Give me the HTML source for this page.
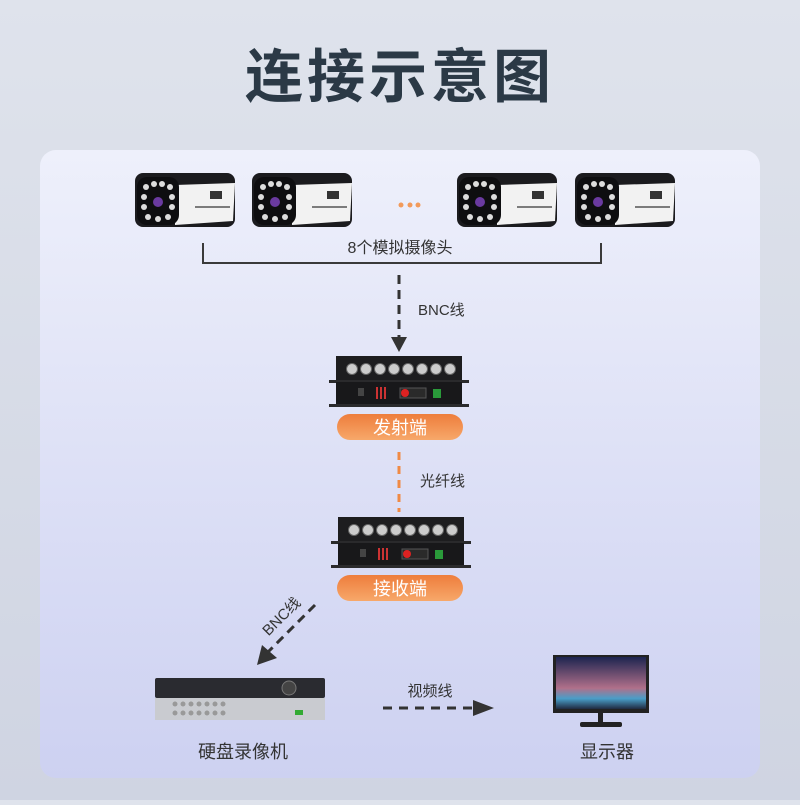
<!DOCTYPE html>
<html><head><meta charset="utf-8"><style>
html,body{margin:0;padding:0}
body{width:800px;height:800px;overflow:hidden;background:linear-gradient(#dfe3ec,#cfd4e2);font-family:"Liberation Sans","Noto Sans CJK SC",sans-serif}
</style></head><body>
<svg width="800" height="800" viewBox="0 0 800 800" xmlns="http://www.w3.org/2000/svg" font-family="Liberation Sans, Noto Sans CJK SC, sans-serif">
<defs>
<linearGradient id="card" x1="0" y1="0" x2="0" y2="1"><stop offset="0" stop-color="#eef0fb"/><stop offset="1" stop-color="#cdd1f1"/></linearGradient>
<linearGradient id="btn" x1="0" y1="0" x2="0" y2="1"><stop offset="0" stop-color="#ee7d3c"/><stop offset="1" stop-color="#f7a86a"/></linearGradient>
<linearGradient id="scr" x1="0" y1="0" x2="0" y2="1"><stop offset="0" stop-color="#1d2550"/><stop offset="0.6" stop-color="#b0708a"/><stop offset="0.8" stop-color="#4a9ec8"/><stop offset="1" stop-color="#202a40"/></linearGradient>
<g id="cam">
<rect x="0" y="0" width="100" height="54" rx="8" fill="#1b1b1e"/>
<path d="M40 12 L100 10 L98 48 L40 52Z" fill="#f2f2f2"/>
<rect x="2" y="4" width="42" height="48" rx="10" fill="#0e0e10"/>
<g fill="#ddd"><circle cx="11" cy="14" r="3"/><circle cx="19" cy="11" r="3"/><circle cx="27" cy="11" r="3"/><circle cx="35" cy="14" r="3"/><circle cx="9" cy="24" r="3"/><circle cx="37" cy="24" r="3"/><circle cx="9" cy="34" r="3"/><circle cx="37" cy="34" r="3"/><circle cx="13" cy="44" r="3"/><circle cx="23" cy="46" r="3"/><circle cx="33" cy="44" r="3"/></g>
<circle cx="23" cy="29" r="5" fill="#6a3aa0"/>
<rect x="75" y="18" width="12" height="8" fill="#333"/>
<path d="M60 34 H95" stroke="#555" stroke-width="1.5"/>
</g>
<g id="dev">
<rect x="3" y="0" width="126" height="24" fill="#1d1d1f"/>
<g fill="#ccc" stroke="#666"><circle cx="19" cy="13" r="5.5"/><circle cx="33" cy="13" r="5.5"/><circle cx="47" cy="13" r="5.5"/><circle cx="61" cy="13" r="5.5"/><circle cx="75" cy="13" r="5.5"/><circle cx="89" cy="13" r="5.5"/><circle cx="103" cy="13" r="5.5"/><circle cx="117" cy="13" r="5.5"/></g>
<rect x="-4" y="24" width="140" height="3" fill="#2a2a2c"/>
<rect x="3" y="26" width="126" height="25" fill="#18181a"/>
<rect x="-4" y="48" width="140" height="3" fill="#2a2a2c"/>
<rect x="25" y="32" width="6" height="8" fill="#444"/>
<g fill="#c33"><rect x="43" y="31" width="2" height="12"/><rect x="47" y="31" width="2" height="12"/><rect x="51" y="31" width="2" height="12"/></g>
<rect x="67" y="32" width="26" height="10" fill="#2a2a2a" stroke="#555"/>
<circle cx="72" cy="37" r="4" fill="#d22"/>
<rect x="100" y="33" width="8" height="9" fill="#2a9a3a"/>
</g>
</defs>
<text x="400" y="97" text-anchor="middle" font-size="58" font-weight="bold" fill="#2b3946" letter-spacing="4">连接示意图</text>
<rect x="40" y="150" width="720" height="628" rx="16" fill="url(#card)"/>
<use href="#cam" x="135" y="173"/>
<use href="#cam" x="252" y="173"/>
<use href="#cam" x="457" y="173"/>
<use href="#cam" x="575" y="173"/>
<g fill="#f29a5a"><circle cx="401" cy="205" r="2.5"/><circle cx="410" cy="205" r="2.5"/><circle cx="418" cy="205" r="2.5"/></g>
<path d="M203 243 V263 H601 V243" fill="none" stroke="#3a3a3a" stroke-width="2"/>
<text x="400" y="253" text-anchor="middle" font-size="16" fill="#333">8个模拟摄像头</text>
<path d="M399 275 V340" stroke="#333" stroke-width="3" stroke-dasharray="9,6"/>
<path d="M391 337 L399 352 L407 337Z" fill="#333"/>
<text x="418" y="315" font-size="15" fill="#333">BNC线</text>
<use href="#dev" x="333" y="356"/>
<rect x="337" y="414" width="126" height="26" rx="13" fill="url(#btn)"/>
<text x="400" y="434" text-anchor="middle" font-size="18" fill="#fff">发射端</text>
<path d="M399 452 V512" stroke="#f08a45" stroke-width="3" stroke-dasharray="8,6"/>
<text x="420" y="486" font-size="15" fill="#333">光纤线</text>
<use href="#dev" x="335" y="517"/>
<rect x="337" y="575" width="126" height="26" rx="13" fill="url(#btn)"/>
<text x="400" y="595" text-anchor="middle" font-size="18" fill="#fff">接收端</text>
<path d="M315 605 L268 652" stroke="#333" stroke-width="3" stroke-dasharray="9,6"/>
<path d="M257 665 L262 645 L277 658Z" fill="#333"/>
<text x="285" y="620" font-size="15" fill="#333" transform="rotate(-45 285 620)" text-anchor="middle">BNC线</text>
<rect x="155" y="678" width="170" height="20" rx="2" fill="#2a2b30"/>
<circle cx="289" cy="688" r="7" fill="#444" stroke="#777"/>
<rect x="155" y="698" width="170" height="22" fill="#c9cbd0"/>
<g fill="#999"><circle cx="175" cy="704" r="2.5"/><circle cx="183" cy="704" r="2.5"/><circle cx="191" cy="704" r="2.5"/><circle cx="199" cy="704" r="2.5"/><circle cx="207" cy="704" r="2.5"/><circle cx="215" cy="704" r="2.5"/><circle cx="223" cy="704" r="2.5"/><circle cx="175" cy="713" r="2.5"/><circle cx="183" cy="713" r="2.5"/><circle cx="191" cy="713" r="2.5"/><circle cx="199" cy="713" r="2.5"/><circle cx="207" cy="713" r="2.5"/><circle cx="215" cy="713" r="2.5"/><circle cx="223" cy="713" r="2.5"/></g>
<rect x="295" y="710" width="8" height="5" fill="#3a3"/>
<text x="243" y="758" text-anchor="middle" font-size="18" fill="#333">硬盘录像机</text>
<path d="M383 708 H475" stroke="#333" stroke-width="3" stroke-dasharray="9,7"/>
<path d="M473 700 L494 708 L473 716Z" fill="#333"/>
<text x="430" y="696" text-anchor="middle" font-size="15" fill="#333">视频线</text>
<rect x="553" y="655" width="96" height="58" fill="#222"/>
<rect x="556" y="657" width="90" height="52" fill="url(#scr)"/>
<rect x="598" y="713" width="5" height="10" fill="#222"/>
<rect x="580" y="722" width="42" height="5" rx="2" fill="#222"/>
<text x="607" y="758" text-anchor="middle" font-size="18" fill="#333">显示器</text>
</svg>
</body></html>
